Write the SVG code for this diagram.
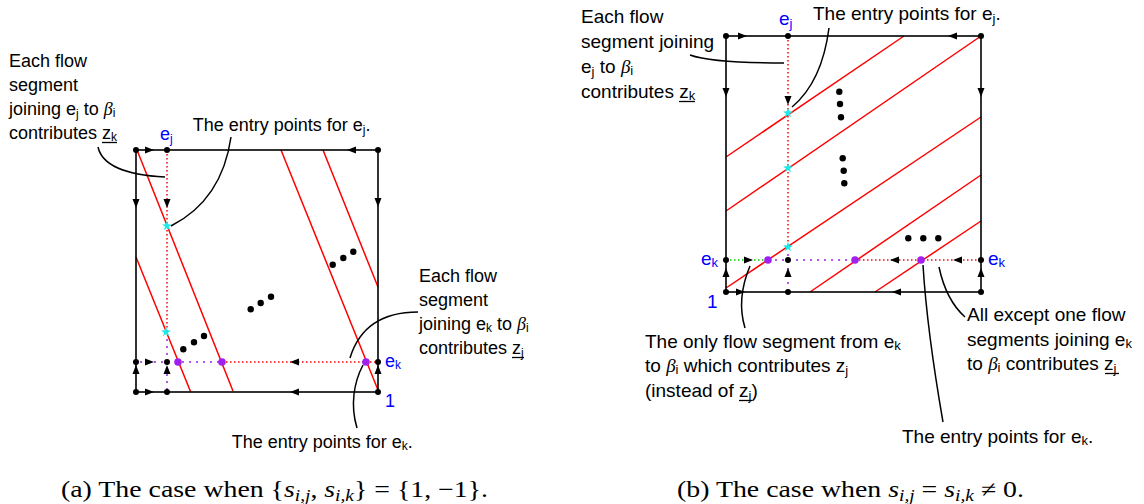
<svg xmlns="http://www.w3.org/2000/svg" xmlns:xlink="http://www.w3.org/1999/xlink" width="1144" height="504" viewBox="0 0 1144 504">
<style>
.sq{fill:none;stroke:#000;stroke-width:1.6}
.rl{stroke:#f00;stroke-width:1.5}
.rd{stroke:#f00;stroke-width:1.5;stroke-dasharray:1.5 2.5}
.pd{stroke:#a020f0;stroke-width:1.5;stroke-dasharray:2 5}
.gd{stroke:#00c800;stroke-width:1.5;stroke-dasharray:1.5 2.5}
.ld{fill:none;stroke:#000;stroke-width:1.5}
.ul{stroke:#000;stroke-width:1.3}
.v{fill:#000}
.pp{fill:#a020f0}
.st{fill:#20e8e8}
.t{font-family:"Liberation Sans",Arial,sans-serif;font-size:18px;fill:#000}
.t2{font-size:19px}
.b{fill:#00f}
.g{font-family:"Liberation Serif","Times New Roman",serif;font-style:italic}
.s{font-size:12px}
.s2{font-size:13px}
.cap{font-family:"Liberation Serif","Times New Roman",serif;font-size:23px;fill:#000}
.cs{font-size:16px;font-style:italic}
.i{font-style:italic}
</style>
<defs>
<path id="ah" d="M0,0 L-9,-3.5 L-9,3.5 Z" fill="#000"/>
<path id="star" d="M0,-5.2 L1.22,-1.68 L4.94,-1.6 L1.97,0.65 L3.06,4.2 L0,2.08 L-3.06,4.2 L-1.97,0.65 L-4.94,-1.6 L-1.22,-1.68 Z"/>
</defs>

<g id="fig-a">
  <g id="a-lines">
    <line class="rl" x1="137" y1="150" x2="233" y2="391"/>
    <line class="rl" x1="136" y1="257" x2="190.7" y2="392"/>
    <line class="rl" x1="281" y1="150" x2="378" y2="390"/>
    <line class="rl" x1="323" y1="150" x2="378" y2="287"/>
    <line class="rd" x1="167" y1="150" x2="167" y2="332"/>
    <line class="pd" x1="167" y1="332" x2="167" y2="392"/>
    <line class="pd" x1="133" y1="362" x2="222" y2="362"/>
    <line class="rd" x1="222" y1="362" x2="378" y2="362"/>
    <rect class="sq" x="136" y="150" width="242" height="242"/>
  </g>
  <g id="a-arrows">
    <use xlink:href="#ah" transform="translate(154,150)"/>
    <use xlink:href="#ah" transform="translate(347,150) rotate(180)"/>
    <use xlink:href="#ah" transform="translate(136,208) rotate(90)"/>
    <use xlink:href="#ah" transform="translate(378,207) rotate(90)"/>
    <use xlink:href="#ah" transform="translate(167,208) rotate(90)"/>
    <use xlink:href="#ah" transform="translate(154,362)"/>
    <use xlink:href="#ah" transform="translate(290,362) rotate(180)"/>
    <use xlink:href="#ah" transform="translate(154,392)"/>
    <use xlink:href="#ah" transform="translate(290,392) rotate(180)"/>
    <use xlink:href="#ah" transform="translate(136,365) rotate(-90)"/>
    <use xlink:href="#ah" transform="translate(167,365) rotate(-90)"/>
    <use xlink:href="#ah" transform="translate(378,365) rotate(-90)"/>
  </g>
  <g id="a-points">
    <circle class="v" cx="136" cy="150" r="3"/><circle class="v" cx="167" cy="150" r="3"/><circle class="v" cx="378" cy="150" r="3"/>
    <circle class="v" cx="136" cy="362" r="3"/><circle class="v" cx="167" cy="362" r="3"/><circle class="v" cx="378" cy="362" r="3"/>
    <circle class="v" cx="136" cy="392" r="3"/><circle class="v" cx="167" cy="392" r="3"/><circle class="v" cx="378" cy="392" r="3"/>
    <circle class="pp" cx="178" cy="362" r="3.8"/><circle class="pp" cx="222" cy="362" r="3.8"/><circle class="pp" cx="366" cy="362" r="3.8"/>
    <use class="st" xlink:href="#star" x="167" y="226"/>
    <use class="st" xlink:href="#star" x="166" y="332"/>
    <circle class="v" cx="183.3" cy="349.3" r="3.2"/><circle class="v" cx="194" cy="342.3" r="3.2"/><circle class="v" cx="204" cy="336" r="3.2"/>
    <circle class="v" cx="250.7" cy="309.3" r="3.2"/><circle class="v" cx="260.7" cy="303" r="3.2"/><circle class="v" cx="271" cy="296.7" r="3.2"/>
    <circle class="v" cx="332.7" cy="264.7" r="3.2"/><circle class="v" cx="343.3" cy="258" r="3.2"/><circle class="v" cx="353.3" cy="251.7" r="3.2"/>
  </g>
  <g id="a-labels">
    <text class="t b" x="160" y="140">e<tspan class="s" dy="3">j</tspan></text>
    <text class="t b" x="385" y="367">e<tspan class="s" dy="2">k</tspan></text>
    <text class="t b" x="385" y="407">1</text>
  </g>
  <g id="a-note-ej">
    <text class="t" x="9" y="67">Each flow</text>
    <text class="t" x="9" y="91">segment</text>
    <text class="t" x="9" y="115">joining e<tspan class="s" dy="3">j</tspan><tspan dy="-3"> to </tspan><tspan class="g">β</tspan><tspan class="s" dy="2">i</tspan></text>
    <text class="t" x="9" y="139">contributes z<tspan class="s" dy="2">k</tspan></text>
    <line class="ul" x1="102" y1="142.5" x2="117" y2="142.5"/>
  </g>
  <g id="a-note-entry-ej">
    <text class="t" x="192.7" y="131">The entry points for e<tspan class="s" dy="3">j</tspan><tspan dy="-3">.</tspan></text>
  </g>
  <g id="a-note-ek">
    <text class="t" x="419" y="282">Each flow</text>
    <text class="t" x="419" y="306">segment</text>
    <text class="t" x="419" y="330">joining e<tspan class="s" dy="2">k</tspan><tspan dy="-2"> to </tspan><tspan class="g">β</tspan><tspan class="s" dy="2">i</tspan></text>
    <text class="t" x="419" y="354">contributes z<tspan class="s" dy="3">j</tspan></text>
    <line class="ul" x1="512" y1="357.5" x2="524" y2="357.5"/>
  </g>
  <g id="a-note-entry-ek">
    <text class="t" x="231.7" y="448">The entry points for e<tspan class="s" dy="2">k</tspan><tspan dy="-2">.</tspan></text>
  </g>
  <text class="cap" x="61" y="497" textLength="427" lengthAdjust="spacingAndGlyphs">(a) The case when {<tspan class="i">s</tspan><tspan class="cs" dy="4">i,j</tspan><tspan dy="-4">, </tspan><tspan class="i">s</tspan><tspan class="cs" dy="4">i,k</tspan><tspan dy="-4">} = {1, −1}.</tspan></text>
</g>

<g id="fig-b">
  <g id="b-lines">
    <line class="rl" x1="726" y1="157" x2="904" y2="36"/>
    <line class="rl" x1="726" y1="211" x2="981" y2="36"/>
    <line class="rl" x1="726" y1="288" x2="981" y2="117"/>
    <line class="rl" x1="810" y1="292" x2="981" y2="175"/>
    <line class="rl" x1="875" y1="292" x2="981" y2="221"/>
    <line class="rd" x1="788" y1="36" x2="788" y2="247"/>
    <line class="pd" x1="788" y1="247" x2="788" y2="292"/>
    <line class="gd" x1="726" y1="260" x2="768" y2="260"/>
    <line class="pd" x1="768" y1="260" x2="855" y2="260"/>
    <line class="rd" x1="855" y1="260" x2="981" y2="260"/>
    <rect class="sq" x="726" y="36" width="255" height="256"/>
  </g>
  <g id="b-arrows">
    <use xlink:href="#ah" transform="translate(747,36)"/>
    <use xlink:href="#ah" transform="translate(948,36) rotate(180)"/>
    <use xlink:href="#ah" transform="translate(726,97) rotate(90)"/>
    <use xlink:href="#ah" transform="translate(981,97) rotate(90)"/>
    <use xlink:href="#ah" transform="translate(788,105) rotate(90)"/>
    <use xlink:href="#ah" transform="translate(753,260)"/>
    <use xlink:href="#ah" transform="translate(890,260) rotate(180)"/>
    <use xlink:href="#ah" transform="translate(953,260) rotate(180)"/>
    <use xlink:href="#ah" transform="translate(745,292)"/>
    <use xlink:href="#ah" transform="translate(892,292) rotate(180)"/>
    <use xlink:href="#ah" transform="translate(726,268) rotate(-90)"/>
    <use xlink:href="#ah" transform="translate(788,268) rotate(-90)"/>
    <use xlink:href="#ah" transform="translate(981,268) rotate(-90)"/>
  </g>
  <g id="b-points">
    <circle class="v" cx="726" cy="36" r="3"/><circle class="v" cx="788" cy="36" r="3"/><circle class="v" cx="981" cy="36" r="3"/>
    <circle class="v" cx="726" cy="260" r="3"/><circle class="v" cx="788" cy="260" r="3"/><circle class="v" cx="981" cy="260" r="3"/>
    <circle class="v" cx="726" cy="292" r="3"/><circle class="v" cx="788" cy="292" r="3"/><circle class="v" cx="981" cy="292" r="3"/>
    <circle class="pp" cx="768" cy="260" r="3.8"/><circle class="pp" cx="855" cy="260" r="3.8"/><circle class="pp" cx="921" cy="260" r="3.8"/>
    <use class="st" xlink:href="#star" x="788" y="113"/>
    <use class="st" xlink:href="#star" x="788" y="168"/>
    <use class="st" xlink:href="#star" x="788" y="247"/>
    <circle class="v" cx="839.3" cy="91.7" r="3.2"/><circle class="v" cx="840" cy="104" r="3.2"/><circle class="v" cx="841" cy="117.3" r="3.2"/>
    <circle class="v" cx="842.7" cy="158.3" r="3.2"/><circle class="v" cx="843.7" cy="170.7" r="3.2"/><circle class="v" cx="844.3" cy="183.3" r="3.2"/>
    <circle class="v" cx="908.3" cy="238.3" r="3.2"/><circle class="v" cx="923.3" cy="238.3" r="3.2"/><circle class="v" cx="938.3" cy="238.3" r="3.2"/>
  </g>
  <g id="b-labels">
    <text class="t t2 b" x="779" y="25">e<tspan class="s2" dy="3">j</tspan></text>
    <text class="t t2 b" x="701" y="265">e<tspan class="s2" dy="2">k</tspan></text>
    <text class="t t2 b" x="988" y="265">e<tspan class="s2" dy="2">k</tspan></text>
    <text class="t t2 b" x="707" y="308">1</text>
  </g>
  <g id="b-note-ej">
    <text class="t t2" x="581" y="23">Each flow</text>
    <text class="t t2" x="581" y="48">segment joining</text>
    <text class="t t2" x="581" y="73">e<tspan class="s2" dy="3">j</tspan><tspan dy="-3"> to </tspan><tspan class="g">β</tspan><tspan class="s2" dy="2">i</tspan></text>
    <text class="t t2" x="581" y="98">contributes z<tspan class="s2" dy="2">k</tspan></text>
    <line class="ul" x1="679" y1="101.5" x2="695" y2="101.5"/>
  </g>
  <g id="b-note-entry-ej">
    <text class="t t2" x="813" y="20">The entry points for e<tspan class="s2" dy="3">j</tspan><tspan dy="-3">.</tspan></text>
  </g>
  <g id="b-note-only">
    <text class="t t2" x="645" y="348">The only flow segment from e<tspan class="s2" dy="2">k</tspan></text>
    <text class="t t2" x="645" y="372">to <tspan class="g">β</tspan><tspan class="s2" dy="2">i</tspan><tspan dy="-2"> which contributes z</tspan><tspan class="s2" dy="3">j</tspan></text>
    <text class="t t2" x="645" y="397">(instead of z<tspan class="s2" dy="3">j</tspan><tspan dy="-3">)</tspan></text>
    <line class="ul" x1="739" y1="400.5" x2="752" y2="400.5"/>
  </g>
  <g id="b-note-all">
    <text class="t t2" x="967" y="321">All except one flow</text>
    <text class="t t2" x="967" y="346">segments joining e<tspan class="s2" dy="2">k</tspan></text>
    <text class="t t2" x="967" y="370">to <tspan class="g">β</tspan><tspan class="s2" dy="2">i</tspan><tspan dy="-2"> contributes z</tspan><tspan class="s2" dy="3">j</tspan></text>
    <line class="ul" x1="1105" y1="373.5" x2="1119" y2="373.5"/>
  </g>
  <g id="b-note-entry-ek">
    <text class="t t2" x="902" y="443">The entry points for e<tspan class="s2" dy="2">k</tspan><tspan dy="-2">.</tspan></text>
  </g>
  <text class="cap" x="677" y="497" textLength="347" lengthAdjust="spacingAndGlyphs">(b) The case when <tspan class="i">s</tspan><tspan class="cs" dy="4">i,j</tspan><tspan dy="-4"> = </tspan><tspan class="i">s</tspan><tspan class="cs" dy="4">i,k</tspan><tspan dy="-4"> ≠ 0.</tspan></text>
</g>

<g id="connectors">
  <path class="ld" d="M98,147 C102,165 125,175 165,177"/>
  <path class="ld" d="M231,137 Q222,200 171,226"/>
  <path class="ld" d="M418,312 Q364,312 350,358"/>
  <path class="ld" d="M357,428 C350,405 354,382 363,365"/>
  <path class="ld" d="M690,55 Q712,63 784,63"/>
  <path class="ld" d="M829,28 Q822,82 792,107"/>
  <path class="ld" d="M745,328 C738,305 742,285 750,266"/>
  <path class="ld" d="M943,422 Q927,330 923,265"/>
  <path class="ld" d="M965,317 Q946,300 939,267"/>
</g>
</svg>
